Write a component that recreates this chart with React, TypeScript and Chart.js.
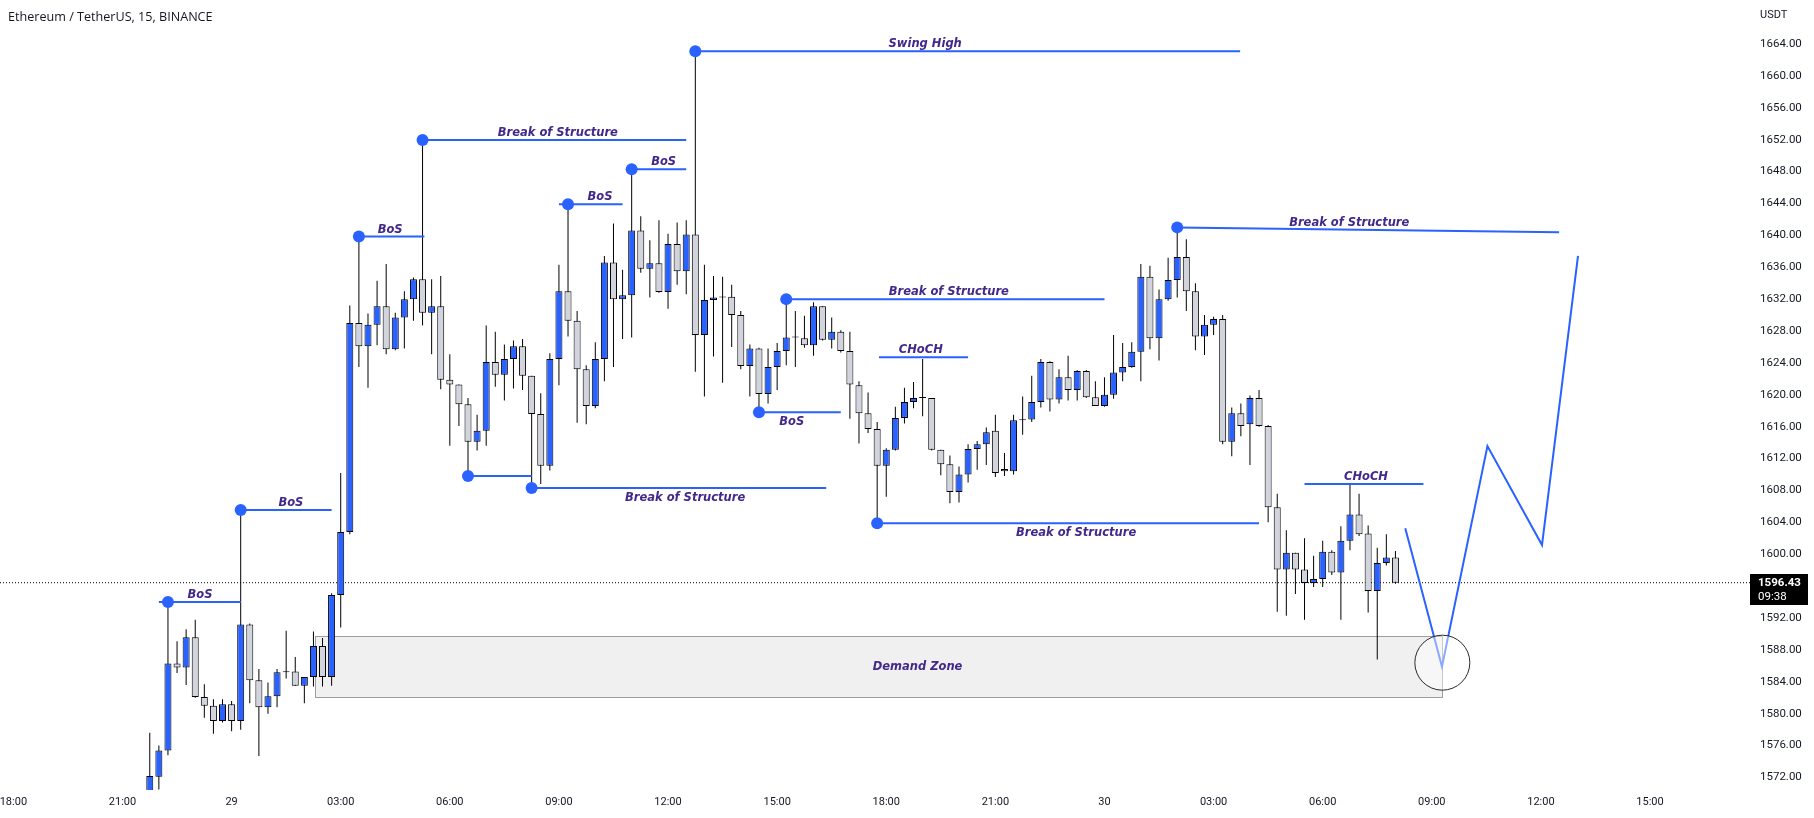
import React, { useEffect, useRef } from 'react';
import { Chart, registerables } from 'chart.js';

Chart.register(...registerables);

// ---- candles: 15-minute bars, first bar at 21:45 on the 28th (hours counted from 28th 00:00)
const startHour = 21.75;
const barHours = 0.25;

const opens = [
  1569.0, 1572.1, 1575.4, 1586.3, 1585.8, 1589.6, 1582.1, 1581.0, 1579.1, 1581.2,
  1579.1, 1591.2, 1584.2, 1580.8, 1582.2, 1585.2, 1585.3, 1583.5, 1584.6, 1588.5,
  1584.6, 1594.9, 1602.8, 1629.0, 1626.1, 1628.8, 1631.1, 1625.7, 1629.7, 1632.0,
  1634.5, 1630.3, 1631.1, 1621.9, 1621.3, 1618.8, 1614.1, 1615.5, 1624.1, 1622.5,
  1624.5, 1626.1, 1622.4, 1617.6, 1611.1, 1624.5, 1633.0, 1629.3, 1623.2, 1618.6,
  1624.5, 1636.6, 1632.0, 1632.5, 1640.6, 1635.8, 1636.5, 1632.9, 1638.9, 1635.5,
  1640.1, 1627.5, 1631.9, 1632.2, 1632.3, 1630.0, 1623.6, 1625.8, 1620.1, 1623.5,
  1625.5, 1627.2, 1627.1, 1626.2, 1631.1, 1626.9, 1627.9, 1625.5, 1621.2, 1617.7,
  1615.7, 1611.1, 1613.1, 1617.1, 1619.1, 1619.6, 1619.6, 1613.1, 1611.3, 1607.8,
  1610.0, 1613.2, 1613.8, 1615.5, 1610.7, 1610.4, 1616.8, 1616.9, 1619.1, 1624.1,
  1619.4, 1622.2, 1620.6, 1623.0, 1619.7, 1618.6, 1620.0, 1622.8, 1623.5, 1625.4,
  1634.8, 1627.1, 1632.0, 1634.4, 1637.3, 1633.0, 1627.3, 1628.8, 1629.5, 1614.1,
  1617.7, 1616.3, 1619.6, 1616.1, 1605.9, 1598.1, 1600.2, 1598.1, 1596.4, 1596.9,
  1600.3, 1597.7, 1601.7, 1605.0, 1602.6, 1595.4, 1598.9, 1599.6,
];
const highs = [
  1577.6, 1576.0, 1594.0, 1589.1, 1590.6, 1591.8, 1583.7, 1581.8, 1581.8, 1581.6,
  1605.5, 1591.3, 1585.6, 1583.9, 1585.6, 1590.4, 1587.1, 1584.6, 1590.3, 1589.5,
  1595.1, 1610.2, 1631.2, 1639.8, 1630.2, 1634.3, 1636.4, 1630.3, 1633.0, 1634.7,
  1652.0, 1634.5, 1634.9, 1625.1, 1621.3, 1619.6, 1617.5, 1628.7, 1627.9, 1626.3,
  1626.8, 1627.0, 1622.4, 1620.2, 1625.2, 1636.3, 1643.9, 1630.5, 1623.7, 1626.6,
  1637.4, 1641.5, 1635.7, 1648.3, 1642.4, 1639.4, 1641.9, 1640.2, 1641.6, 1641.9,
  1663.1, 1636.3, 1634.9, 1634.8, 1633.8, 1630.5, 1626.3, 1625.9, 1625.8, 1626.5,
  1631.9, 1630.5, 1629.9, 1631.6, 1631.1, 1629.7, 1628.1, 1627.9, 1621.7, 1620.3,
  1616.6, 1613.3, 1618.5, 1620.9, 1621.6, 1624.5, 1619.6, 1613.1, 1612.4, 1611.0,
  1613.8, 1614.2, 1615.9, 1617.5, 1612.7, 1617.5, 1619.8, 1622.4, 1624.5, 1624.2,
  1623.2, 1624.9, 1623.1, 1623.1, 1621.7, 1622.2, 1627.5, 1626.5, 1626.6, 1636.4,
  1636.2, 1633.2, 1637.2, 1641.0, 1639.5, 1634.0, 1630.0, 1629.8, 1630.0, 1618.4,
  1618.9, 1619.9, 1620.6, 1616.2, 1607.6, 1603.0, 1600.2, 1602.0, 1599.8, 1601.7,
  1600.5, 1603.5, 1608.8, 1607.6, 1603.6, 1600.8, 1602.5, 1600.4,
];
const lows = [
  1568.5, 1570.5, 1574.8, 1585.1, 1583.6, 1582.0, 1579.5, 1577.5, 1578.9, 1577.8,
  1578.0, 1581.3, 1574.7, 1580.0, 1580.8, 1584.4, 1583.5, 1581.3, 1583.4, 1583.4,
  1583.5, 1590.8, 1602.5, 1623.5, 1620.9, 1626.2, 1625.1, 1625.6, 1625.8, 1629.3,
  1628.7, 1625.1, 1620.7, 1613.6, 1616.1, 1609.8, 1613.0, 1613.6, 1621.0, 1619.3,
  1620.8, 1620.6, 1608.3, 1608.8, 1610.5, 1621.2, 1627.3, 1616.5, 1616.3, 1618.3,
  1621.7, 1623.5, 1627.0, 1627.2, 1635.3, 1632.2, 1632.8, 1630.8, 1633.8, 1632.6,
  1622.9, 1619.8, 1624.8, 1621.5, 1626.0, 1623.2, 1619.8, 1617.8, 1618.9, 1620.6,
  1623.7, 1623.5, 1625.9, 1624.9, 1626.8, 1625.8, 1625.3, 1617.0, 1613.9, 1615.2,
  1603.9, 1607.2, 1613.0, 1616.4, 1618.3, 1617.3, 1613.0, 1609.9, 1606.4, 1606.5,
  1609.0, 1610.6, 1611.2, 1609.7, 1609.8, 1610.0, 1615.0, 1616.6, 1618.4, 1617.9,
  1618.9, 1619.3, 1619.3, 1619.6, 1618.6, 1618.5, 1619.5, 1621.7, 1623.4, 1621.7,
  1625.7, 1624.3, 1631.8, 1632.2, 1630.5, 1625.6, 1625.0, 1627.5, 1613.8, 1612.3,
  1614.8, 1611.2, 1616.0, 1604.0, 1592.8, 1592.3, 1595.0, 1591.8, 1595.9, 1595.9,
  1597.4, 1591.8, 1600.5, 1602.3, 1592.7, 1586.8, 1598.6, 1596.3,
];
const closes = [
  1572.2, 1575.4, 1586.3, 1585.8, 1589.6, 1582.1, 1581.0, 1579.1, 1581.2, 1579.1,
  1591.2, 1584.2, 1580.8, 1582.2, 1585.2, 1585.3, 1583.5, 1584.6, 1588.5, 1584.6,
  1594.9, 1602.8, 1629.0, 1626.1, 1628.8, 1631.1, 1625.7, 1629.7, 1632.0, 1634.5,
  1630.3, 1631.1, 1621.9, 1621.3, 1618.8, 1614.1, 1615.5, 1624.1, 1622.5, 1624.5,
  1626.1, 1622.4, 1617.6, 1611.1, 1624.5, 1633.0, 1629.3, 1623.2, 1618.6, 1624.5,
  1636.6, 1632.0, 1632.5, 1640.6, 1635.8, 1636.5, 1632.9, 1638.9, 1635.5, 1640.1,
  1627.5, 1631.9, 1632.2, 1632.3, 1630.0, 1623.6, 1625.8, 1620.1, 1623.5, 1625.5,
  1627.2, 1627.2, 1626.2, 1631.1, 1626.9, 1627.9, 1625.5, 1621.3, 1617.7, 1615.7,
  1611.1, 1613.1, 1617.1, 1619.1, 1619.6, 1619.6, 1613.1, 1611.3, 1607.8, 1610.0,
  1613.2, 1613.8, 1615.3, 1610.2, 1610.4, 1616.8, 1616.9, 1619.1, 1624.1, 1619.4,
  1622.2, 1620.6, 1623.0, 1619.7, 1618.6, 1620.0, 1622.8, 1623.5, 1625.4, 1634.8,
  1627.1, 1632.0, 1634.4, 1637.3, 1633.0, 1627.3, 1628.8, 1629.5, 1614.1, 1617.7,
  1616.1, 1619.6, 1616.1, 1605.9, 1598.1, 1600.2, 1598.1, 1596.4, 1596.9, 1600.3,
  1597.7, 1601.7, 1605.0, 1602.5, 1595.4, 1598.9, 1599.6, 1596.43,
];

// ---- axes
const xTickValues = [18, 21, 24, 27, 30, 33, 36, 39, 42, 45, 48, 51, 54, 57, 60, 63];
const xTickLabels = ['18:00', '21:00', '29', '03:00', '06:00', '09:00', '12:00', '15:00',
  '18:00', '21:00', '30', '03:00', '06:00', '09:00', '12:00', '15:00'];
const yTickValues = [1572, 1576, 1580, 1584, 1588, 1592, 1596, 1600, 1604, 1608, 1612, 1616,
  1620, 1624, 1628, 1632, 1636, 1640, 1644, 1648, 1652, 1656, 1660, 1664];
const xRange = [17.632, 65.749];
const yRange = [1570.43, 1669.52];

const lastPrice = 1596.43;
const countdown = '09:38';
const title = 'Ethereum / TetherUS, 15, BINANCE';
const currency = 'USDT';

// ---- drawings: [startHour, endHour, startPrice, endPrice]
const levelLines: [number, number, number, number][] = [
  [22.0, 24.25, 1594.0, 1594.0],
  [24.25, 26.75, 1605.55, 1605.55],
  [27.5, 29.3, 1639.85, 1639.85],
  [29.25, 36.5, 1651.96, 1651.96],
  [36.75, 51.73, 1663.1, 1663.1],
  [33.0, 34.75, 1643.9, 1643.9],
  [35.0, 36.5, 1648.28, 1648.28],
  [30.5, 32.25, 1609.82, 1609.82],
  [32.25, 40.35, 1608.3, 1608.3],
  [39.25, 48.0, 1632.0, 1632.0],
  [38.5, 40.75, 1617.8, 1617.8],
  [41.8, 44.25, 1624.7, 1624.7],
  [41.75, 52.25, 1603.9, 1603.9],
  [50.0, 60.5, 1641.0, 1640.4],
  [53.5, 56.77, 1608.8, 1608.8],
];
const swingDots: [number, number][] = [
  [22.25, 1594.0], [24.25, 1605.55], [27.5, 1639.85], [29.25, 1651.96], [36.75, 1663.1],
  [33.25, 1643.9], [35.0, 1648.28], [30.5, 1609.82], [32.25, 1608.3], [39.25, 1632.0],
  [38.5, 1617.8], [41.75, 1603.9], [50.0, 1641.0],
];
const lineLabels: [string, number, number, string][] = [
  ['BoS', 23.13, 1594.0, 'above'],
  ['BoS', 25.63, 1605.55, 'above'],
  ['BoS', 28.36, 1639.85, 'above'],
  ['Break of Structure', 32.97, 1651.96, 'above'],
  ['Swing High', 43.07, 1663.1, 'above'],
  ['BoS', 34.13, 1643.9, 'above'],
  ['BoS', 35.88, 1648.28, 'above'],
  ['Break of Structure', 36.47, 1608.3, 'below'],
  ['Break of Structure', 43.72, 1632.0, 'above'],
  ['BoS', 39.4, 1617.8, 'below'],
  ['CHoCH', 42.95, 1624.7, 'above'],
  ['Break of Structure', 47.22, 1603.9, 'below'],
  ['Break of Structure', 54.73, 1640.7, 'above'],
  ['CHoCH', 55.19, 1608.8, 'above'],
  ['Demand Zone', 42.86, 1585.8, 'center'],
];
const demandZone = { fromHour: 26.28, toHour: 57.29, low: 1582.06, high: 1589.69 };
const projectionPath: [number, number][] = [
  [56.27, 1603.26], [57.28, 1585.9], [58.53, 1613.58], [60.03, 1601.16], [61.02, 1637.41],
];
const targetCircle = { hour: 57.29, price: 1586.4 };

const BLUE = '#2962FF';
const BEAR = '#D1D4DC';
const TEXT = '#131722';
const LABEL = '#43288C';
const FONT = 'Roboto';
const LABEL_FONT = 'italic bold 11.5px "DejaVu Sans"';

export default function App() {
  const ref = useRef<HTMLCanvasElement | null>(null);

  useEffect(() => {
    document.body.style.margin = '0';
    document.body.style.overflow = 'hidden';
    const canvas = ref.current;
    if (!canvas) return;

    const times = opens.map((_, i) => startHour + i * barHours);
    const isUp = opens.map((o, i) => closes[i] >= o);

    const levelData: any[] = [];
    levelLines.forEach(([t1, t2, p1, p2]) => {
      levelData.push({ x: t1, y: p1 }, { x: t2, y: p2 }, { x: t2, y: null });
    });

    const overlay = {
      id: 'overlay',
      beforeDatasetsDraw(chart: any) {
        const { ctx, chartArea, scales } = chart;
        const x = scales.x, y = scales.y;
        ctx.save();
        ctx.beginPath();
        ctx.rect(chartArea.left, chartArea.top, chartArea.right - chartArea.left, chartArea.bottom - chartArea.top);
        ctx.clip();
        const x1 = Math.round(x.getPixelForValue(demandZone.fromHour)) + 0.5;
        const x2 = Math.round(x.getPixelForValue(demandZone.toHour)) + 0.5;
        const y1 = Math.round(y.getPixelForValue(demandZone.high)) + 0.5;
        const y2 = Math.round(y.getPixelForValue(demandZone.low)) + 0.5;
        ctx.fillStyle = '#F0F0F0';
        ctx.fillRect(x1, y1, x2 - x1, y2 - y1);
        ctx.strokeStyle = '#9E9E9E';
        ctx.lineWidth = 1;
        ctx.strokeRect(x1, y1, x2 - x1, y2 - y1);
        ctx.restore();
      },
      afterDraw(chart: any) {
        const { ctx, chartArea, scales } = chart;
        const x = scales.x, y = scales.y;
        ctx.save();
        ctx.beginPath();
        ctx.rect(chartArea.left, chartArea.top, chartArea.right - chartArea.left, chartArea.bottom - chartArea.top);
        ctx.clip();
        // target circle
        const cx = x.getPixelForValue(targetCircle.hour);
        const cy = y.getPixelForValue(targetCircle.price);
        ctx.beginPath();
        ctx.arc(cx, cy, 27.5, 0, Math.PI * 2);
        ctx.fillStyle = 'rgba(255,255,255,0.45)';
        ctx.fill();
        ctx.strokeStyle = '#2A2A2A';
        ctx.lineWidth = 1;
        ctx.stroke();
        // labels
        ctx.fillStyle = LABEL;
        ctx.font = LABEL_FONT;
        ctx.textAlign = 'center';
        lineLabels.forEach(([text, t, p, pos]) => {
          const px = x.getPixelForValue(t);
          const py = y.getPixelForValue(p);
          if (pos === 'above') {
            ctx.textBaseline = 'alphabetic';
            ctx.fillText(text, px, py - 4);
          } else if (pos === 'below') {
            ctx.textBaseline = 'alphabetic';
            ctx.fillText(text, px, py + 12.5);
          } else {
            ctx.textBaseline = 'middle';
            ctx.fillText(text, px, py);
          }
        });
        ctx.restore();

        // title & currency
        ctx.save();
        ctx.fillStyle = TEXT;
        ctx.font = '12.6px "Open Sans"';
        ctx.textAlign = 'left';
        ctx.textBaseline = 'alphabetic';
        ctx.fillText(title, 8, 21);
        ctx.font = `11px ${FONT}`;
        ctx.fillText(currency, chartArea.right + 10, 18);

        // last price box
        const ly = y.getPixelForValue(lastPrice);
        ctx.fillStyle = '#000000';
        ctx.fillRect(chartArea.right, Math.round(ly - 8.5), 58, 31);
        ctx.fillStyle = '#FFFFFF';
        ctx.font = `bold 11.5px ${FONT}`;
        ctx.textBaseline = 'middle';
        ctx.fillText(lastPrice.toFixed(2), chartArea.right + 8, ly);
        ctx.font = `11.5px ${FONT}`;
        ctx.fillText(countdown, chartArea.right + 8, ly + 14);
        ctx.restore();
      },
    };

    const chart = new Chart(canvas, {
      type: 'bar',
      data: {
        datasets: [
          {
            type: 'line',
            label: 'last',
            data: [{ x: xRange[0], y: lastPrice }, { x: xRange[1], y: lastPrice }],
            borderColor: '#000000',
            borderWidth: 1,
            borderDash: [1, 2],
            pointRadius: 0,
            order: 3,
            clip: 0,
          } as any,
          {
            type: 'bar',
            label: 'wicks',
            data: times.map((t, i) => ({ x: t, y: [lows[i], highs[i]] })),
            backgroundColor: '#000000',
            borderWidth: 0,
            barThickness: 1,
            grouped: false,
            inflateAmount: 0,
            order: 2,
            clip: 0,
          } as any,
          {
            type: 'bar',
            label: 'bodies',
            data: times.map((t, i) => ({ x: t, y: [Math.min(opens[i], closes[i]), Math.max(opens[i], closes[i])] })),
            backgroundColor: isUp.map((u) => (u ? BLUE : BEAR)),
            borderColor: '#000000',
            borderWidth: 1,
            borderSkipped: false,
            barThickness: 7,
            minBarLength: 1,
            grouped: false,
            inflateAmount: 0,
            order: 1,
            clip: 0,
          } as any,
          {
            type: 'line',
            label: 'levels',
            data: levelData,
            borderColor: BLUE,
            borderWidth: 2,
            pointRadius: 0,
            spanGaps: false,
            order: 0,
            clip: 0,
          } as any,
          {
            type: 'line',
            label: 'path',
            data: projectionPath.map(([t, p]) => ({ x: t, y: p })),
            borderColor: BLUE,
            borderWidth: 2,
            pointRadius: 0,
            order: -1,
            clip: 0,
          } as any,
          {
            type: 'line',
            label: 'dots',
            data: swingDots.map(([t, p]) => ({ x: t, y: p })),
            showLine: false,
            pointRadius: 6,
            pointBackgroundColor: BLUE,
            pointBorderWidth: 0,
            order: -2,
            clip: 0,
          } as any,
        ],
      },
      options: {
        responsive: false,
        animation: false,
        events: [],
        layout: { padding: 0, autoPadding: false },
        plugins: { legend: { display: false }, tooltip: { enabled: false }, title: { display: false } },
        scales: {
          x: {
            type: 'linear',
            min: xRange[0],
            max: xRange[1],
            offset: false,
            bounds: 'data',
            grid: { display: false, drawTicks: false, offset: false },
            border: { display: false },
            ticks: {
              autoSkip: false,
              maxRotation: 0,
              padding: 6,
              color: TEXT,
              font: { family: FONT, size: 11 },
              callback: (v: any) => {
                const i = xTickValues.indexOf(Number(v));
                return i >= 0 ? xTickLabels[i] : '';
              },
            },
            afterBuildTicks: (s: any) => { s.ticks = xTickValues.map((v) => ({ value: v })); },
            afterFit: (s: any) => { s.height = 28; s.paddingLeft = 0; s.paddingRight = 0; s.paddingTop = 0; s.paddingBottom = 0; },
          },
          y: {
            type: 'linear',
            position: 'right',
            min: yRange[0],
            max: yRange[1],
            beginAtZero: false,
            bounds: 'data',
            grid: { display: false, drawTicks: false },
            border: { display: false },
            ticks: {
              padding: 10,
              color: TEXT,
              font: { family: FONT, size: 11.5 },
              callback: (v: any) => Number(v).toFixed(2),
            },
            afterBuildTicks: (s: any) => { s.ticks = yTickValues.map((v) => ({ value: v })); },
            afterFit: (s: any) => { s.width = 64; s.paddingLeft = 0; s.paddingRight = 0; s.paddingTop = 0; s.paddingBottom = 0; },
          },
        },
      } as any,
      plugins: [overlay],
    });

    return () => chart.destroy();
  }, []);

  return (
    <div style={{ width: 1814, height: 818, position: 'relative', background: '#FFFFFF' }}>
      <canvas ref={ref} width={1814} height={818} style={{ display: 'block', width: 1814, height: 818 }} />
    </div>
  );
}
